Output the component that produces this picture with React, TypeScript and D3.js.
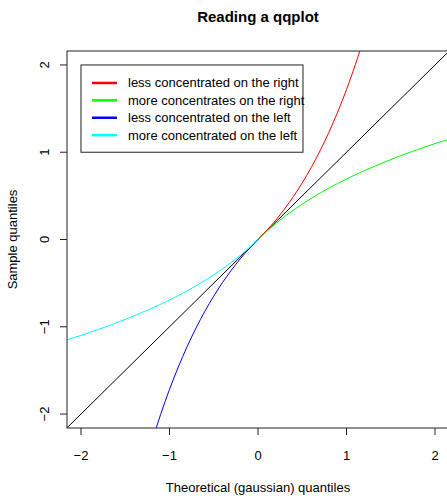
import React from "react";
import * as d3 from "d3";

const xTicks = [-2, -1, 0, 1, 2];
const yTicks = [-2, -1, 0, 1, 2];

const identityX = [-2.3, 2.3];
const identityY = [-2.3, 2.3];

const redX = [0, 0.1, 0.2, 0.3, 0.4, 0.5, 0.6, 0.7, 0.8, 0.9, 1.0, 1.1, 1.2];
const redY = [0, 0.105, 0.221, 0.35, 0.492, 0.649, 0.822, 1.014, 1.226, 1.46, 1.718, 2.004, 2.32];

const greenX = [0, 0.1, 0.2, 0.3, 0.4, 0.6, 0.8, 1.0, 1.2, 1.4, 1.6, 1.8, 2.0, 2.2, 2.4];
const greenY = [0, 0.095, 0.182, 0.262, 0.336, 0.47, 0.588, 0.693, 0.788, 0.875, 0.956, 1.03, 1.099, 1.163, 1.224];

const blueX = [0, -0.1, -0.2, -0.3, -0.4, -0.5, -0.6, -0.7, -0.8, -0.9, -1.0, -1.1, -1.2];
const blueY = [0, -0.105, -0.221, -0.35, -0.492, -0.649, -0.822, -1.014, -1.226, -1.46, -1.718, -2.004, -2.32];

const cyanX = [0, -0.1, -0.2, -0.3, -0.4, -0.6, -0.8, -1.0, -1.2, -1.4, -1.6, -1.8, -2.0, -2.2, -2.4];
const cyanY = [0, -0.095, -0.182, -0.262, -0.336, -0.47, -0.588, -0.693, -0.788, -0.875, -0.956, -1.03, -1.099, -1.163, -1.224];

const legendLabels = [
  "less concentrated on the right",
  "more concentrates on the right",
  "less concentrated on the left",
  "more concentrated on the left",
];
const legendColors = ["#ff0000", "#00ff00", "#0000ff", "#00ffff"];

const W = 447;
const H = 498;
const FONT = "'Liberation Sans', Arial, Helvetica, sans-serif";

export default function App() {
  const left = 67, right = 449, top = 51, bottom = 428;
  const x = d3.scaleLinear().domain([-2.158, 2.158]).range([left, right]);
  const y = d3.scaleLinear().domain([-2.16, 2.16]).range([bottom, top]);
  const line = d3
    .line<[number, number]>()
    .x((d) => x(d[0]))
    .y((d) => y(d[1]))
    .curve(d3.curveMonotoneX);
  const zip = (a: number[], b: number[]) => a.map((v, i) => [v, b[i]] as [number, number]);
  const series = [
    { pts: zip(redX, redY), color: legendColors[0] },
    { pts: zip(greenX, greenY), color: legendColors[1] },
    { pts: zip(blueX, blueY).reverse(), color: legendColors[2] },
    { pts: zip(cyanX, cyanY).reverse(), color: legendColors[3] },
  ];

  const legX = x(-2), legY = y(2), legW = 222, legH = y(1) - y(2);
  const rowH = 17.4;

  return (
    <svg
      width={W}
      height={H}
      style={{ position: "absolute", left: 0, top: 0, background: "#fff" }}
      fontFamily={FONT}
    >
      <defs>
        <clipPath id="plotclip">
          <rect x={left} y={top} width={right - left} height={bottom - top} />
        </clipPath>
      </defs>
      <rect x={0} y={0} width={W} height={H} fill="#fff" />
      <text x={(left + right) / 2} y={22} textAnchor="middle" fontWeight="bold" fontSize={15} fill="#000">
        Reading a qqplot
      </text>
      <g clipPath="url(#plotclip)">
        <line
          x1={x(identityX[0])}
          y1={y(identityY[0])}
          x2={x(identityX[1])}
          y2={y(identityY[1])}
          stroke="#000"
          strokeWidth={1}
        />
        {series.map((s, i) => (
          <path key={i} d={line(s.pts) || ""} fill="none" stroke={s.color} strokeWidth={1} />
        ))}
      </g>
      <rect x={left} y={top} width={right - left} height={bottom - top} fill="none" stroke="#222" strokeWidth={1} />
      {xTicks.map((t) => (
        <g key={"x" + t}>
          <line x1={x(t)} x2={x(t)} y1={bottom} y2={bottom + 7} stroke="#222" />
          <text x={x(t)} y={460} textAnchor="middle" fontSize={13} fill="#000">
            {t < 0 ? "\u2212" + Math.abs(t) : String(t)}
          </text>
        </g>
      ))}
      {yTicks.map((t) => (
        <g key={"y" + t}>
          <line x1={left} x2={left - 7} y1={y(t)} y2={y(t)} stroke="#222" />
          <text
            transform={`translate(${49},${y(t)}) rotate(-90)`}
            textAnchor="middle"
            fontSize={13}
            fill="#000"
          >
            {t < 0 ? "\u2212" + Math.abs(t) : String(t)}
          </text>
        </g>
      ))}
      <text x={(left + right) / 2} y={492} textAnchor="middle" fontSize={13} fill="#000">
        Theoretical (gaussian) quantiles
      </text>
      <text transform={`translate(${17},${y(0)}) rotate(-90)`} textAnchor="middle" fontSize={13} fill="#000">
        Sample quantiles
      </text>
      <rect x={legX} y={legY} width={legW} height={legH} fill="#fff" stroke="#222" strokeWidth={1} />
      {legendLabels.map((lab, i) => {
        const cy = legY + 18 + i * rowH;
        return (
          <g key={lab}>
            <line x1={92} x2={117} y1={cy} y2={cy} stroke={legendColors[i]} strokeWidth={2.5} />
            <text x={128} y={cy + 4.5} fontSize={13} fill="#000">
              {lab}
            </text>
          </g>
        );
      })}
    </svg>
  );
}
